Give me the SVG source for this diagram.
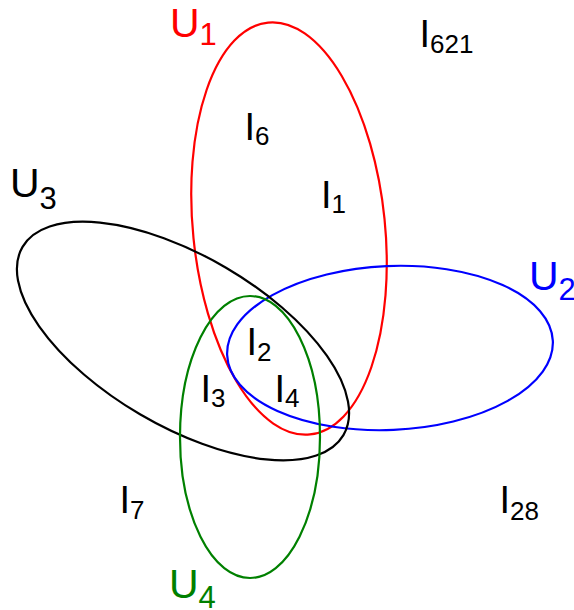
<svg xmlns="http://www.w3.org/2000/svg" width="574" height="610" viewBox="0 0 574 610">
<style>
.set{fill:none;stroke-width:2.2}
.u{font-family:"Liberation Sans",Arial,sans-serif;font-size:41px}
.i{font-family:"Liberation Sans",Arial,sans-serif;font-size:38px;fill:#000}
.us{font-size:31px}
.is{font-size:26px}
</style>
<rect width="574" height="610" fill="#fff"/>
<g id="U1">
<ellipse class="set" cx="289" cy="228.5" rx="96" ry="207" transform="rotate(-5.8 289 228.5)" stroke="#ff0000"/>
<text class="u" x="170" y="37" fill="#ff0000">U<tspan class="us" dy="8">1</tspan></text>
</g>
<g id="U2">
<ellipse class="set" cx="390" cy="348" rx="163" ry="82" transform="rotate(-2.5 390 348)" stroke="#0000ff"/>
<text class="u" x="529" y="290" fill="#0000ff">U<tspan class="us" dy="10">2</tspan></text>
</g>
<g id="U3">
<ellipse class="set" cx="183" cy="341" rx="186" ry="85" transform="rotate(30.4 183 341)" stroke="#000"/>
<text class="u" x="10" y="197" fill="#000">U<tspan class="us" dy="12">3</tspan></text>
</g>
<g id="U4">
<ellipse class="set" cx="250" cy="437" rx="70" ry="141" stroke="#008000"/>
<text class="u" x="169" y="598" fill="#008000">U<tspan class="us" dy="10">4</tspan></text>
</g>
<g id="I621"><text class="i" x="419.5" y="47">I<tspan class="is" dy="6">621</tspan></text></g>
<g id="I6"><text class="i" x="244.5" y="140">I<tspan class="is" dy="5">6</tspan></text></g>
<g id="I1"><text class="i" x="321" y="208">I<tspan class="is" dy="5">1</tspan></text></g>
<g id="I2"><text class="i" x="246.5" y="355">I<tspan class="is" dy="6">2</tspan></text></g>
<g id="I3"><text class="i" x="200.5" y="402">I<tspan class="is" dy="5">3</tspan></text></g>
<g id="I4"><text class="i" x="274.5" y="402">I<tspan class="is" dy="5">4</tspan></text></g>
<g id="I7"><text class="i" x="119.5" y="513">I<tspan class="is" dy="6">7</tspan></text></g>
<g id="I28"><text class="i" x="499.5" y="513">I<tspan class="is" dy="7">28</tspan></text></g>
</svg>
